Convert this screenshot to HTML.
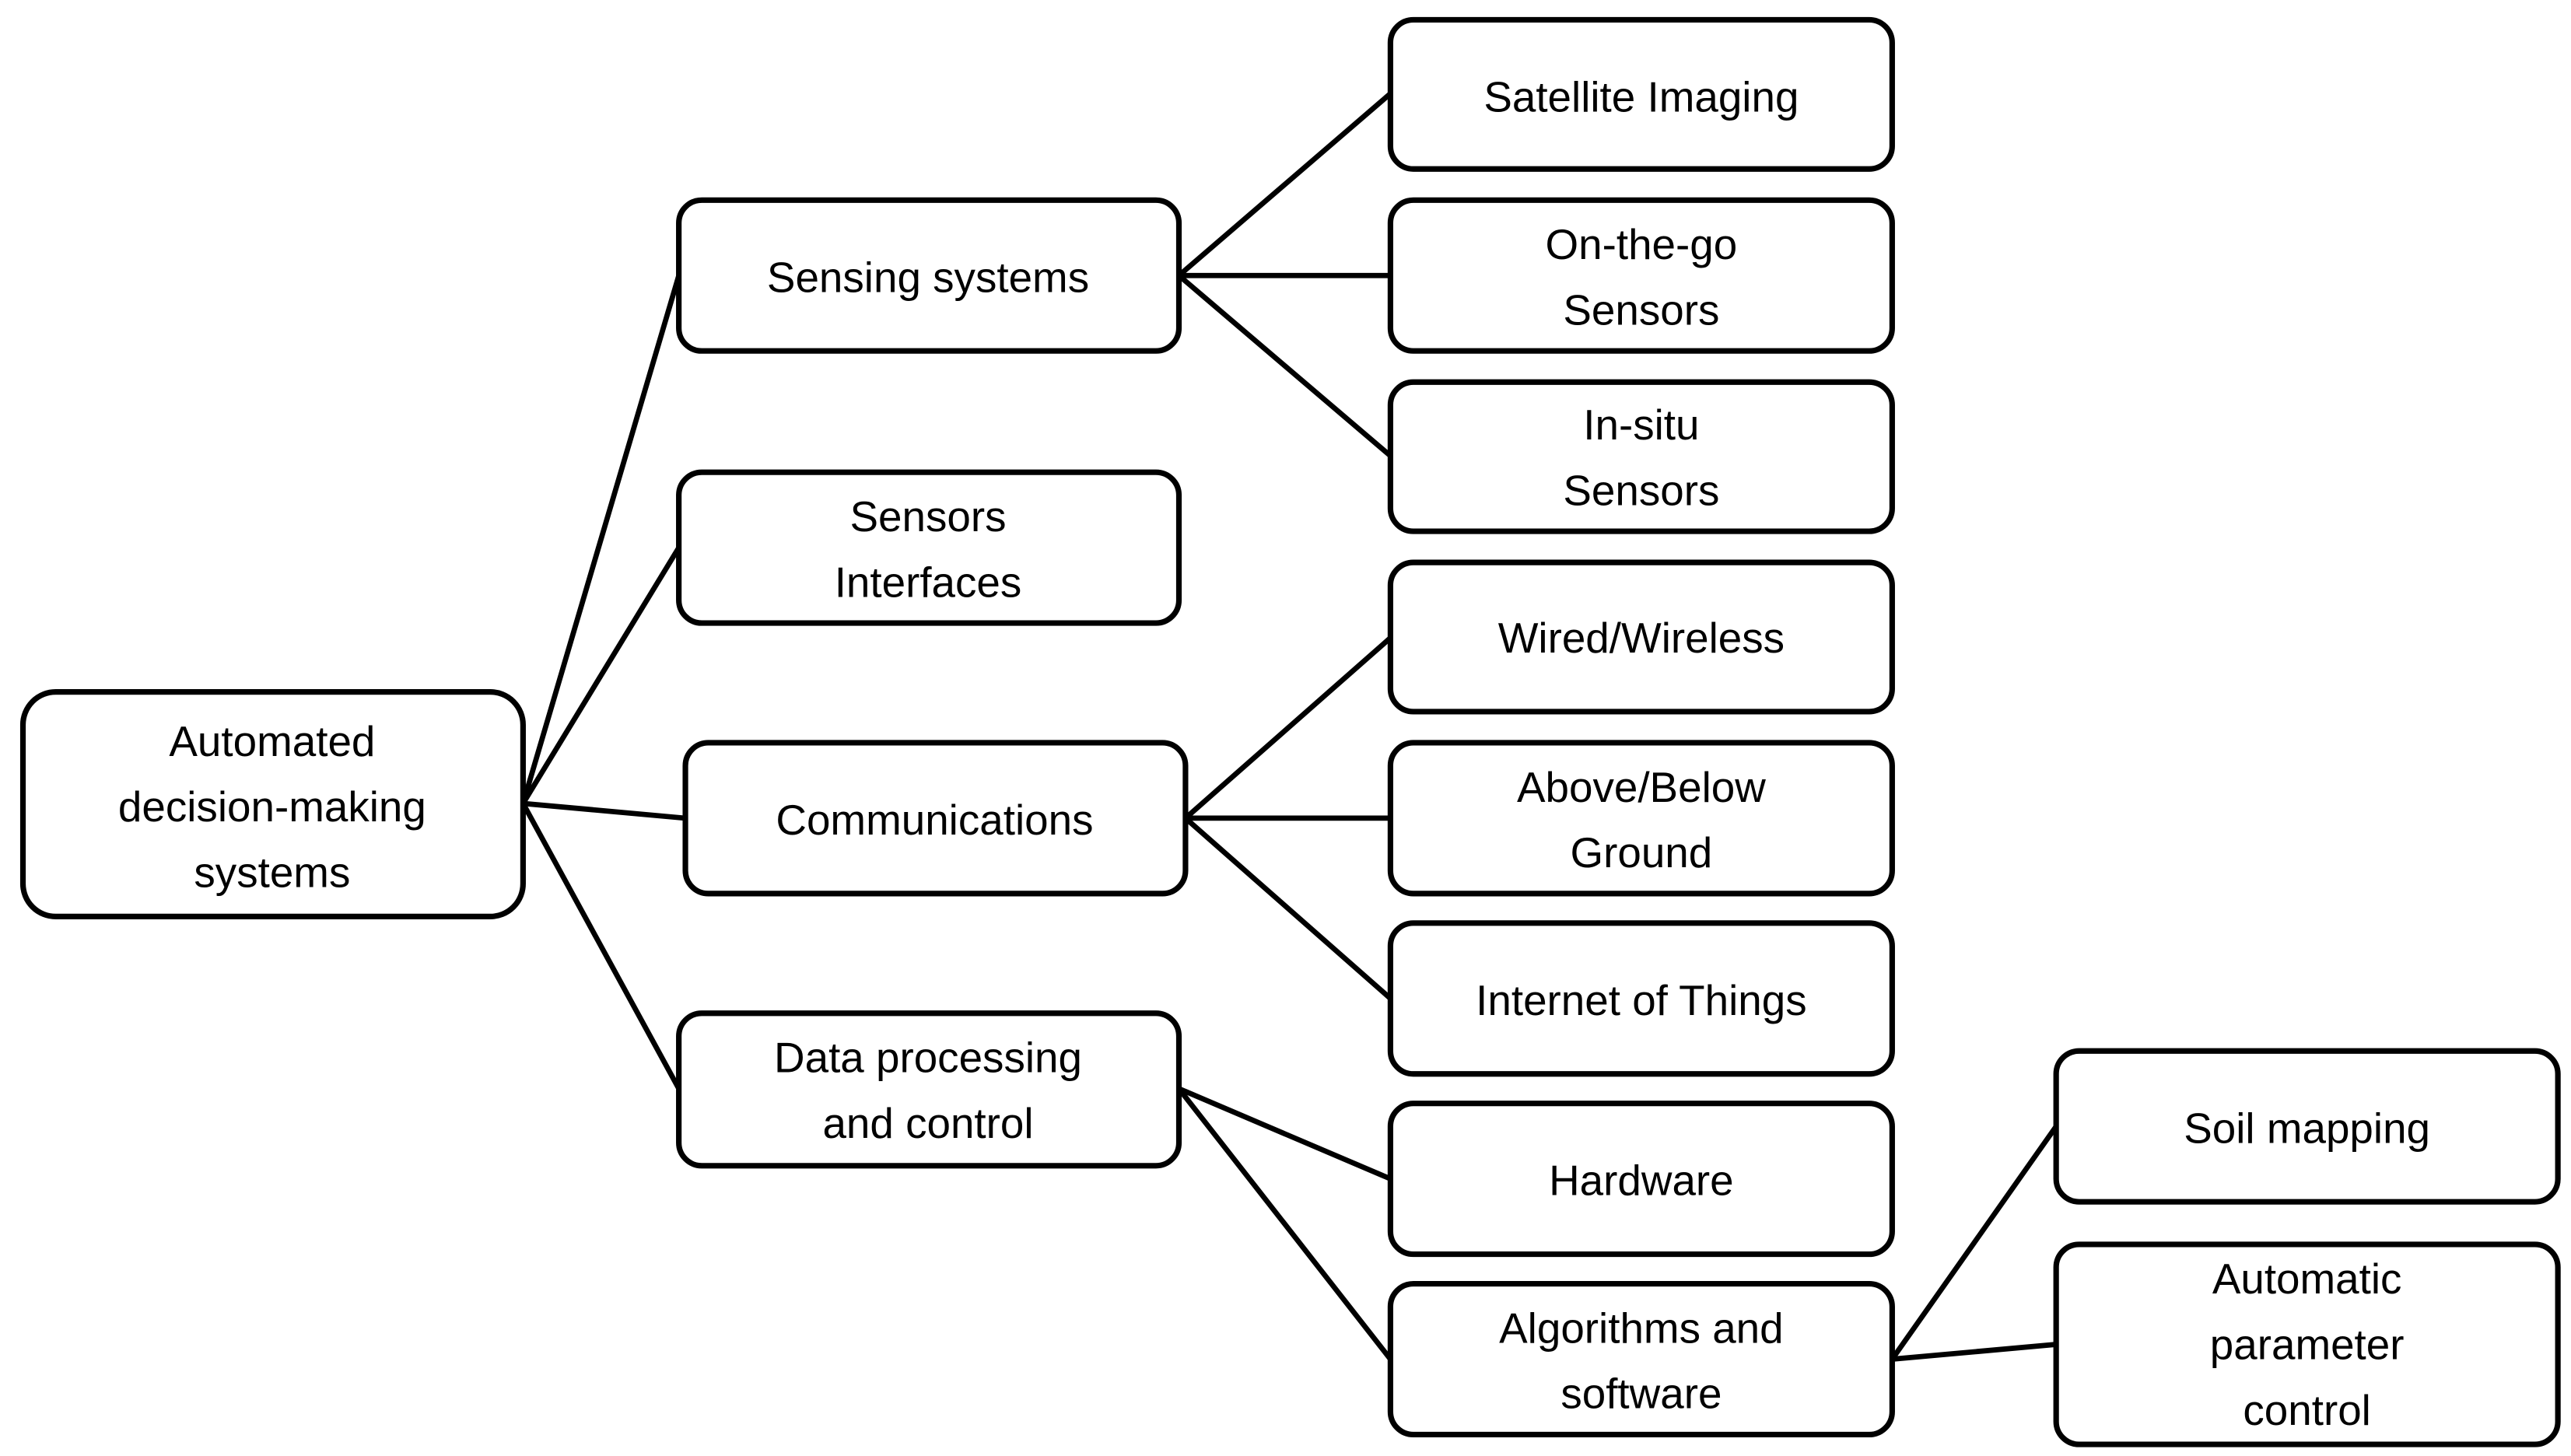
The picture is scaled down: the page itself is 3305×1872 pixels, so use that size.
<!DOCTYPE html>
<html><head><meta charset="utf-8"><style>
html,body{margin:0;padding:0;background:#fff;}
svg{display:block;}
text{font-family:"Liberation Sans",sans-serif;font-size:26px;fill:#000;text-anchor:middle;}
</style></head><body>
<svg width="3305" height="1872" viewBox="0 0 1568 888" xmlns="http://www.w3.org/2000/svg">
<g stroke="#000" stroke-width="3.2" fill="none" stroke-linecap="round">
<line x1="319" y1="490" x2="414" y2="168"/>
<line x1="319" y1="490" x2="414" y2="334"/>
<line x1="319" y1="490" x2="418" y2="499"/>
<line x1="319" y1="490" x2="414" y2="664"/>
<line x1="719" y1="168" x2="848" y2="57"/>
<line x1="719" y1="168" x2="848" y2="168"/>
<line x1="719" y1="168" x2="848" y2="278"/>
<line x1="723" y1="499" x2="848" y2="389"/>
<line x1="723" y1="499" x2="848" y2="499"/>
<line x1="723" y1="499" x2="848" y2="609"/>
<line x1="719" y1="664" x2="848" y2="719"/>
<line x1="719" y1="664" x2="848" y2="829"/>
<line x1="1154" y1="829" x2="1254" y2="687"/>
<line x1="1154" y1="829" x2="1254" y2="820"/>
</g>
<g stroke="#000" stroke-width="3.4" fill="#fff">
<rect x="14" y="422" width="305" height="137" rx="20"/>
<rect x="414" y="122" width="305" height="92" rx="14"/>
<rect x="414" y="288" width="305" height="92" rx="14"/>
<rect x="418" y="453" width="305" height="92" rx="14"/>
<rect x="414" y="618" width="305" height="93" rx="14"/>
<rect x="848" y="12" width="306" height="91" rx="14"/>
<rect x="848" y="122" width="306" height="92" rx="14"/>
<rect x="848" y="233" width="306" height="91" rx="14"/>
<rect x="848" y="343" width="306" height="91" rx="14"/>
<rect x="848" y="453" width="306" height="92" rx="14"/>
<rect x="848" y="563" width="306" height="92" rx="14"/>
<rect x="848" y="673" width="306" height="92" rx="14"/>
<rect x="848" y="783" width="306" height="92" rx="14"/>
<rect x="1254" y="641" width="306" height="92" rx="14"/>
<rect x="1254" y="759" width="306" height="122" rx="14"/>
</g>
<text x="166" y="461">Automated</text>
<text x="166" y="501">decision-making</text>
<text x="166" y="541">systems</text>
<text x="566" y="178">Sensing systems</text>
<text x="566" y="324">Sensors</text>
<text x="566" y="364">Interfaces</text>
<text x="570" y="509">Communications</text>
<text x="566" y="654">Data processing</text>
<text x="566" y="694">and control</text>
<text x="1001" y="68">Satellite Imaging</text>
<text x="1001" y="158">On-the-go</text>
<text x="1001" y="198">Sensors</text>
<text x="1001" y="268">In-situ</text>
<text x="1001" y="308">Sensors</text>
<text x="1001" y="398">Wired/Wireless</text>
<text x="1001" y="489">Above/Below</text>
<text x="1001" y="529">Ground</text>
<text x="1001" y="619">Internet of Things</text>
<text x="1001" y="729">Hardware</text>
<text x="1001" y="819">Algorithms and</text>
<text x="1001" y="859">software</text>
<text x="1407" y="697">Soil mapping</text>
<text x="1407" y="789">Automatic</text>
<text x="1407" y="829">parameter</text>
<text x="1407" y="869">control</text>
</svg>
</body></html>
